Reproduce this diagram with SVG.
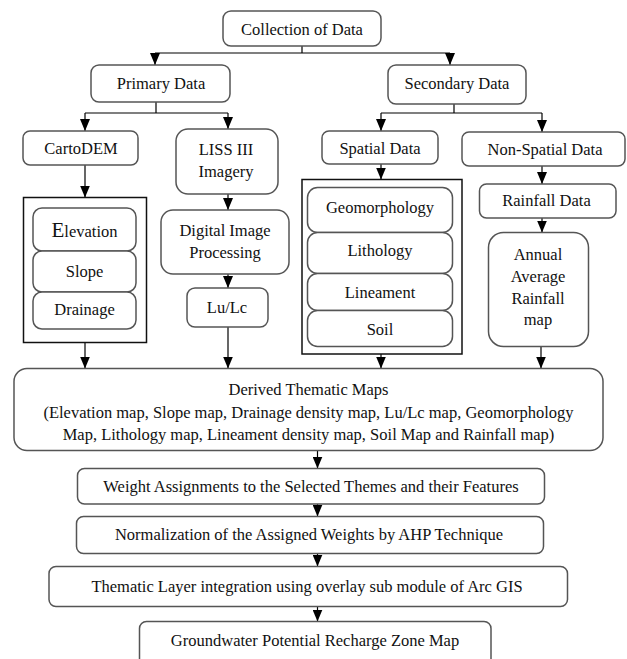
<svg xmlns="http://www.w3.org/2000/svg" width="627" height="659" viewBox="0 0 627 659">
<defs>
<marker id="arr" markerUnits="userSpaceOnUse" viewBox="0 0 12 10" refX="12" refY="5" markerWidth="12" markerHeight="10" orient="auto">
<path d="M0,0 L12,5 L0,10 z" fill="#000"/>
</marker>
<style>
.b{fill:#fff;stroke:#555;stroke-width:1.5}
.o{fill:none;stroke:#111;stroke-width:1.5}
.t{font-family:"Liberation Serif","Times New Roman",serif;font-size:16.5px;fill:#111;text-anchor:middle}
.c{fill:none;stroke:#000;stroke-width:1.2}
.a{fill:none;stroke:#000;stroke-width:1.2;marker-end:url(#arr)}
</style>
</defs>
<rect width="627" height="659" fill="#fff"/>
<g id="connectors">
<path class="c" d="M302,46 V53 M155,53 H450 M156,102 V113 M85,113 H228 M454,104 V113 M381,113 H542"/>
<path class="a" d="M155,53 V65"/>
<path class="a" d="M450,53 V65"/>
<path class="a" d="M85,113 V131"/>
<path class="a" d="M228,113 V129"/>
<path class="a" d="M381,113 V131"/>
<path class="a" d="M542,113 V132"/>
<path class="a" d="M85,165 V197.5"/>
<path class="a" d="M228,194 V210"/>
<path class="a" d="M228,274 V288"/>
<path class="a" d="M381,164 V179.5"/>
<path class="a" d="M542,166 V184"/>
<path class="a" d="M542,218 V232.5"/>
<path class="a" d="M85,342.5 V368.5"/>
<path class="a" d="M228,327 V368.5"/>
<path class="a" d="M381,354 V368.5"/>
<path class="a" d="M541,346.5 V368.5"/>
<path class="a" d="M317.5,450.5 V468.5"/>
<path class="a" d="M317.5,504 V516.5"/>
<path class="a" d="M317.5,553.5 V566.5"/>
<path class="a" d="M317.5,606.5 V621.5"/>
</g>
<g id="collection"><rect class="b" x="223" y="11" width="158" height="35" rx="8"/><text class="t" x="302" y="34.5">Collection of Data</text></g>
<g id="primary"><rect class="b" x="91" y="65" width="139" height="37" rx="8"/><text class="t" x="161" y="89">Primary Data</text></g>
<g id="secondary"><rect class="b" x="388" y="65" width="138" height="39" rx="8"/><text class="t" x="457" y="89">Secondary Data</text></g>
<g id="cartodem"><rect class="b" x="23" y="131" width="115" height="34" rx="7"/><text class="t" x="81" y="154">CartoDEM</text></g>
<g id="liss"><rect class="b" x="176" y="129" width="102" height="65" rx="12"/><text class="t" x="226" y="155">LISS III</text><text class="t" x="226" y="176.5">Imagery</text></g>
<g id="dip"><rect class="b" x="161" y="210" width="128" height="64" rx="12"/><text class="t" x="225" y="235.5">Digital Image</text><text class="t" x="225" y="257.5">Processing</text></g>
<g id="lulc"><rect class="b" x="187" y="288" width="81" height="39" rx="8"/><text class="t" x="227" y="313">Lu/Lc</text></g>
<g id="primary-group"><rect class="o" x="23.5" y="197.5" width="123" height="145"/></g>
<g id="elevation"><rect class="b" x="33" y="208" width="103" height="43" rx="9"/><text class="t" x="84.5" y="236.5"><tspan font-size="21">E</tspan>levation</text></g>
<g id="slope"><rect class="b" x="33" y="251" width="103" height="41" rx="9"/><text class="t" x="84.5" y="276.5">Slope</text></g>
<g id="drainage"><rect class="b" x="33" y="292" width="103" height="37" rx="9"/><text class="t" x="84.5" y="315">Drainage</text></g>
<g id="spatial"><rect class="b" x="322" y="131" width="116" height="33" rx="7"/><text class="t" x="380" y="153.5">Spatial Data</text></g>
<g id="spatial-group"><rect class="o" x="302" y="179.5" width="160" height="174.5"/></g>
<g id="geomorphology"><rect class="b" x="307.5" y="187.5" width="145" height="45" rx="10"/><text class="t" x="380" y="212.5">Geomorphology</text></g>
<g id="lithology"><rect class="b" x="307.5" y="232.5" width="145" height="41" rx="10"/><text class="t" x="380" y="256">Lithology</text></g>
<g id="lineament"><rect class="b" x="307.5" y="273.5" width="145" height="37" rx="10"/><text class="t" x="380" y="297.5">Lineament</text></g>
<g id="soil"><rect class="b" x="307.5" y="310.5" width="145" height="36" rx="10"/><text class="t" x="380" y="335">Soil</text></g>
<g id="nonspatial"><rect class="b" x="462" y="132" width="163" height="34" rx="7"/><text class="t" x="545" y="154.5">Non-Spatial Data</text></g>
<g id="rainfall"><rect class="b" x="479.5" y="184" width="136.5" height="34" rx="7"/><text class="t" x="546.5" y="206">Rainfall Data</text></g>
<g id="annual"><rect class="b" x="488.5" y="232.5" width="100" height="114" rx="15"/><text class="t" x="538" y="259.5">Annual</text><text class="t" x="538" y="281.5">Average</text><text class="t" x="538" y="303.5">Rainfall</text><text class="t" x="538" y="325">map</text></g>
<g id="derived"><rect class="b" x="14" y="368.5" width="589" height="82" rx="13"/><text class="t" x="308.5" y="395">Derived Thematic Maps</text><text class="t" x="308.5" y="417.5">(Elevation map, Slope map, Drainage density map, Lu/Lc map, Geomorphology</text><text class="t" x="308.5" y="440">Map, Lithology map, Lineament density map, Soil Map and Rainfall map)</text></g>
<g id="weight"><rect class="b" x="77.5" y="468.5" width="467" height="35.5" rx="7"/><text class="t" x="311" y="491.5">Weight Assignments to the Selected Themes and their Features</text></g>
<g id="normalization"><rect class="b" x="76.5" y="516.5" width="467" height="37" rx="7"/><text class="t" x="309" y="540">Normalization of the Assigned Weights by AHP Technique</text></g>
<g id="integration"><rect class="b" x="49" y="566.5" width="518.5" height="40" rx="7"/><text class="t" x="307" y="591.5">Thematic Layer integration using overlay sub module of Arc GIS</text></g>
<g id="groundwater"><rect class="b" x="139.5" y="621.5" width="351.5" height="45" rx="7"/><text class="t" x="315" y="645.5">Groundwater Potential Recharge Zone Map</text></g>
</svg>
